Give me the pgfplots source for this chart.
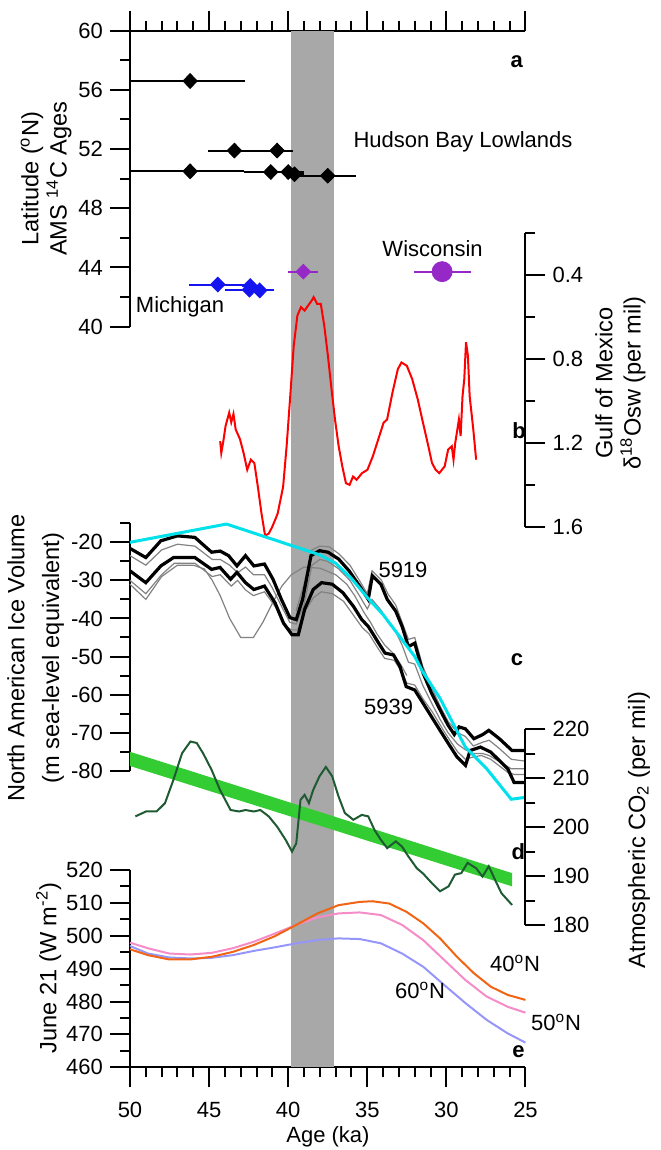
\documentclass[border=0pt]{standalone}
\usepackage{fontspec}
\setmainfont{Liberation Sans}
\usepackage{pgfplots}
\pgfplotsset{compat=1.18}

\definecolor{bandgray}{RGB}{168,168,168}
\definecolor{mblue}{RGB}{20,20,240}
\definecolor{wpurple}{RGB}{150,40,200}
\definecolor{gomred}{RGB}{255,0,0}
\definecolor{icecyan}{RGB}{0,225,235}
\definecolor{thingray}{RGB}{130,130,130}
\definecolor{co2green}{RGB}{30,90,50}
\definecolor{bandgreen}{RGB}{51,204,51}
\definecolor{ins40}{RGB}{240,100,20}
\definecolor{ins50}{RGB}{245,140,200}
\definecolor{ins60}{RGB}{150,150,250}

\newcommand{\lbl}{\fontsize{11}{13}\selectfont}
\newcommand{\vlbl}{\fontsize{11.8}{14}\selectfont}

\pgfplotsset{
  panel/.style={
    scale only axis, width=197.75pt,
    xmin=25, xmax=50, x dir=reverse,
    anchor=south west, clip=false,
    tick align=outside,
    major tick length=10pt, minor tick length=5pt,
    tick style={line width=1pt, black},
    minor tick style={line width=1pt, black},
    axis line style={line width=1pt},
    /pgf/number format/assume math mode=true,
    tick label style={font=\lbl},
  },
  leftpanel/.style={panel, axis y line*=left, hide x axis},
  rightpanel/.style={panel, axis y line*=right, hide x axis},
}

\begin{document}
\begin{tikzpicture}
\useasboundingbox (0,0) rectangle (330pt,575pt);

% frame: age axis top and bottom, shaded interval
\begin{axis}[panel, at={(65pt,41.35pt)}, height=518.3pt,
  ymin=0, ymax=1, axis x line=box, axis y line=none,
  xtick={25,30,...,50}, minor x tick num=4,
  xticklabel style={yshift=-4pt}]
\addplot[fill=bandgray, draw=none] coordinates {(39.8,0) (37.1,0) (37.1,1) (39.8,1)} -- cycle;
\end{axis}

% a: latitude of AMS 14C ages
\begin{axis}[leftpanel, at={(65pt,411.65pt)}, height=148pt,
  ymin=40, ymax=60, ytick={40,44,...,60}, minor ytick={42,46,...,58}]
\addplot[only marks, black, mark=diamond*, mark size=3.7pt, mark options={xscale=1.3},
  error bars/.cd, x dir=both, x explicit, error mark=none,
  error bar style={line width=1pt, black}]
  coordinates {
  (46.2,56.6) += (3.8,0) -= (3.5,0)
  (43.4,51.9) +- (1.7,0)
  (40.7,51.9) +- (1.0,0)
  (46.2,50.5) += (3.8,0) -= (3.4,0)
  (41.1,50.45) +- (1.7,0)
  (40.0,50.45) +- (1.0,0)
  (39.6,50.3) +- (0.6,0)
  (37.5,50.2) +- (1.8,0)
  };
\addplot[only marks, mblue, mark=diamond*, mark size=3.7pt, mark options={xscale=1.3},
  error bars/.cd, x dir=both, x explicit, error mark=none,
  error bar style={line width=1pt, mblue}]
  coordinates {
  (44.45,42.85) +- (1.85,0)
  (42.4,42.75) +- (0.5,0)
  (42.45,42.5) +- (1.55,0)
  (41.8,42.45) +- (0.9,0)
  };
\addplot[only marks, wpurple, mark=diamond*, mark size=3.7pt, mark options={xscale=1.3},
  error bars/.cd, x dir=both, x explicit, error mark=none,
  error bar style={line width=1pt, wpurple}]
  coordinates {(39.04,43.72) +- (0.95,0)};
\addplot[only marks, wpurple, mark=*, mark size=5pt,
  error bars/.cd, x dir=both, x explicit, error mark=none,
  error bar style={line width=1pt, wpurple}]
  coordinates {(30.27,43.72) +- (1.8,0)};
\end{axis}

% b: Gulf of Mexico d18Osw
\begin{axis}[rightpanel, at={(65pt,311.35pt)}, height=147pt,
  ymin=0.2, ymax=1.6, y dir=reverse,
  ytick={0.4,0.8,1.2,1.6}, minor ytick={0.2,0.6,1.0,1.4}]
\addplot[gomred, line width=1pt] coordinates {
  (44.30,1.190) (44.23,1.246) (44.10,1.190) (43.96,1.118) (43.73,1.054) (43.60,1.100)
  (43.46,1.060) (43.32,1.134) (43.05,1.180) (42.82,1.246) (42.59,1.326) (42.36,1.278)
  (42.14,1.294) (41.92,1.406) (41.69,1.533) (41.46,1.640) (41.23,1.630) (41.01,1.598)
  (40.80,1.560) (40.66,1.533) (40.32,1.406) (40.10,1.214) (39.87,0.975) (39.65,0.735)
  (39.42,0.592) (39.19,0.551) (38.96,0.568) (38.74,0.544) (38.51,0.520) (38.39,0.504)
  (38.17,0.536) (37.94,0.536) (37.72,0.640) (37.49,0.783) (37.26,0.943) (37.04,1.087)
  (36.81,1.214) (36.58,1.310) (36.35,1.390) (36.12,1.398) (35.90,1.358) (35.68,1.374)
  (35.33,1.342) (34.99,1.326) (34.65,1.262) (34.31,1.182) (33.97,1.102) (33.75,1.087)
  (33.41,0.959) (33.07,0.847) (32.84,0.815) (32.50,0.831) (32.16,0.895) (31.81,0.991)
  (31.48,1.102) (31.14,1.214) (30.91,1.294) (30.68,1.326) (30.45,1.342) (30.11,1.310)
  (29.89,1.230) (29.66,1.214) (29.55,1.278) (29.44,1.198) (29.21,1.087) (29.10,1.166)
  (28.98,0.975) (28.87,0.895) (28.76,0.719) (28.64,0.783) (28.53,0.975) (28.30,1.134)
  (28.12,1.278)
};
\end{axis}

% c: North American ice volume
\begin{axis}[leftpanel, at={(65pt,189.65pt)}, height=123.7pt,
  ymin=-80, ymax=-15, ytick={-80,-70,...,-20}, minor ytick={-75,-65,...,-15}]
% thin grey runs
\addplot[thingray, line width=0.6pt] coordinates {
  (39.5,-38) (39.0,-31) (38.5,-22) (38.0,-21) (37.4,-21.2) (36.8,-23) (36.1,-26) (35.5,-30)
  (35.0,-33.5) (34.7,-27.5) (34.1,-30) (33.7,-33.5) (33.2,-36.5) (32.8,-41) (32.4,-45.5)
  (32.0,-45) (31.5,-52.5) (30.9,-58.5) (30.4,-63) (29.9,-67) (29.3,-70) (28.8,-71)
  (28.3,-73.5) (27.7,-72.5) (27.3,-72) (26.7,-74) (25.9,-77) (25.0,-77.5)
};
\addplot[thingray, line width=0.6pt] coordinates {
  (50.0,-23.5) (49.0,-26) (48.0,-22) (47.0,-20.5) (45.9,-21) (44.8,-24.5) (44.3,-24.5)
  (43.7,-26) (43.2,-28) (42.7,-26.5) (42.2,-28.5) (41.5,-28.5) (41.0,-32) (40.4,-37)
  (39.9,-41) (39.5,-41.5) (39.0,-36.5) (38.5,-26) (38.0,-24.5) (37.5,-25) (36.8,-27)
  (36.1,-30) (35.5,-34) (35.0,-37.5) (34.7,-35) (34.1,-38) (33.7,-41) (33.2,-43.5)
  (32.8,-47) (32.4,-51.5) (32.0,-52) (31.5,-57.5) (30.9,-62.5) (30.4,-66.5) (29.9,-70)
  (29.3,-73) (28.8,-74.5) (28.3,-75.5) (27.7,-75.5) (27.3,-76) (26.7,-77.5) (25.9,-79.5)
  (25.0,-79.5)
};
\addplot[thingray, line width=0.6pt] coordinates {
  (50.0,-30) (49.0,-33.5) (48.0,-28.5) (47.2,-25.5) (45.9,-25.5) (44.8,-29) (44.3,-28.5)
  (43.6,-31.5) (43.2,-30) (42.7,-32.5) (42.2,-34) (41.5,-33) (40.8,-37) (40.3,-41.5)
  (39.8,-43) (39.4,-43) (39.0,-38.5) (38.4,-34.5) (37.9,-33) (37.2,-33.5) (36.5,-35.5)
  (35.9,-39) (35.3,-42.5) (34.9,-44) (34.3,-48) (33.9,-50.5) (33.3,-51) (32.9,-53.5)
  (32.5,-57) (32.0,-57.5) (31.5,-61) (30.9,-64.5) (30.1,-70) (29.3,-75) (28.8,-77)
  (28.4,-76.5) (27.8,-76) (27.2,-77) (26.1,-80.5) (25.7,-81) (25.0,-81)
};
\addplot[thingray, line width=0.6pt] coordinates {
  (50.0,-31) (49.0,-35) (48.0,-29) (47.0,-26) (46.0,-26) (45.3,-27) (44.8,-30)
  (44.3,-34) (43.7,-40) (43.0,-45) (42.2,-45) (41.6,-41) (41.0,-36) (40.4,-31.5)
  (39.8,-28.5) (39.0,-26.5) (38.0,-26.8) (37.0,-28.5) (36.3,-31) (35.8,-34) (35.2,-38.5)
  (34.8,-41) (34.4,-44) (33.9,-47) (33.4,-49) (32.9,-52) (32.5,-55)
};
% thick black runs 5919 and 5939
\addplot[black, line width=1.6pt] coordinates {
  (50.0,-21.6) (49.0,-24) (48.05,-19.6) (47.0,-18.3) (45.9,-18.7) (44.84,-22.6) (44.3,-22.3)
  (43.77,-23.5) (43.24,-26.2) (42.7,-23.5) (42.17,-26.2) (41.5,-25.7) (40.96,-29.7)
  (40.43,-35) (39.89,-39.8) (39.49,-40.3) (39.09,-35) (38.56,-23.5) (38.02,-22.2)
  (37.48,-22.6) (36.81,-24.4) (36.15,-27.5) (35.48,-31.5) (34.94,-35) (34.68,-28.8)
  (34.14,-31) (33.74,-35) (33.2,-38.1) (32.8,-42.1) (32.4,-47.4) (32.0,-46.5)
  (31.47,-54.4) (30.93,-59.7) (30.4,-64) (29.9,-68) (29.5,-70.5) (29.2,-68.5) (28.8,-69)
  (28.26,-71.6) (27.7,-70.5) (27.32,-69.4) (26.65,-71.6) (25.85,-74.7) (25.0,-74.7)
};
\addplot[black, line width=1.6pt] coordinates {
  (50.0,-27.5) (49.0,-30.6) (48.05,-26.2) (47.25,-24) (45.9,-24) (44.84,-27.1) (44.31,-26.6)
  (43.64,-29.7) (43.24,-27.9) (42.7,-30.6) (42.17,-32.4) (41.5,-31.5) (40.83,-35.9)
  (40.3,-41.2) (39.76,-44.3) (39.36,-44.3) (38.96,-37.6) (38.42,-32.4) (37.89,-30.6)
  (37.22,-31) (36.55,-33.2) (35.88,-36.8) (35.35,-40.3) (34.94,-42.1) (34.68,-43.8)
  (34.28,-46.5) (33.88,-49.1) (33.34,-49.6) (32.94,-52.6) (32.54,-57.9) (32.0,-58.8)
  (31.47,-62.3) (30.93,-65.9) (30.13,-71.2) (29.33,-76.4) (28.79,-78.6) (28.5,-74.7)
  (27.85,-73.8) (27.2,-75.1) (26.12,-79.5) (25.72,-83.1) (25.0,-83.1)
};
% cyan reference curve
\addplot[icecyan, line width=1.5pt] coordinates {
  (50.0,-20) (43.9,-15.2) (38.0,-23.3) (37.0,-25.5) (36.0,-29.5) (35.0,-34.5) (34.0,-39)
  (33.0,-44.5) (32.0,-50) (31.5,-54) (30.4,-61) (28.8,-73.8) (27.45,-79.5) (25.9,-87.5)
  (25.0,-87)
};
\end{axis}

% d: atmospheric CO2
\begin{axis}[rightpanel, at={(65pt,112.5pt)}, height=97.85pt,
  ymin=180, ymax=220, ytick={180,190,...,220}, minor ytick={185,195,...,215}]
\addplot[fill=bandgreen, draw=none] coordinates {
  (50,215.4) (37.9,203.0) (25.85,190.6) (25.85,187.9) (37.9,200.2) (50,212.5)} -- cycle;
\addplot[co2green, line width=1pt] coordinates {
  (49.66,202.2) (48.99,203.2) (48.32,203.2) (47.79,204.9) (47.25,209.7) (46.71,215.1)
  (46.18,217.5) (45.78,217.2) (45.38,215.1) (44.84,211.7) (44.31,207.6) (43.64,203.5)
  (43.10,203.2) (42.70,203.5) (42.17,203.2) (41.76,203.5) (41.23,202.2) (40.70,200.1)
  (40.16,197.4) (39.76,195.0) (39.49,196.7) (39.22,205.6) (38.96,206.6) (38.69,204.9)
  (38.42,207.6) (38.02,210.4) (37.62,212.3) (37.22,210.4) (36.82,206.3) (36.42,202.9)
  (35.88,201.5) (35.35,202.5) (34.94,202.2) (34.54,199.4) (34.14,197.4) (33.74,195.7)
  (33.20,197.1) (32.80,196.0) (32.40,194.0) (31.87,191.6) (31.47,190.5) (30.93,188.6)
  (30.40,186.9) (29.86,187.9) (29.46,190.3) (29.06,190.6) (28.66,192.7) (28.12,191.6)
  (27.72,189.9) (27.32,192.0) (26.92,189.2) (26.52,186.5) (25.85,184.1)
};
\end{axis}

% e: June 21 insolation
\begin{axis}[leftpanel, at={(65pt,41.35pt)}, height=98.65pt,
  ymin=460, ymax=520, ytick={460,470,...,520}, minor ytick={465,475,...,515}]
\addplot[ins60, line width=1pt] coordinates {
  (50,496.9) (48.86,494.6) (47.52,493.4) (46.18,493.1) (44.84,493.3) (43.5,494.1)
  (42.17,495.4) (40.83,496.5) (39.49,497.7) (38.15,498.7) (36.82,499.2) (35.48,499.0)
  (34.14,497.7) (32.8,494.6) (31.47,490.6) (30.13,485.0) (28.79,479.5) (27.45,474.4)
  (26.12,470.3) (25,467.5)
};
\addplot[ins50, line width=1pt] coordinates {
  (50,497.9) (48.86,496.2) (47.52,494.6) (46.18,494.3) (44.84,494.8) (43.5,496.2)
  (42.17,498.2) (40.83,500.7) (39.49,503.3) (38.15,505.6) (36.82,506.8) (35.48,507.1)
  (34.14,506.3) (32.8,503.3) (31.47,498.7) (30.13,492.6) (28.79,486.5) (27.45,481.5)
  (26.12,478.4) (25,476.6)
};
\addplot[ins40, line width=1pt] coordinates {
  (50,495.9) (48.86,494.1) (47.52,492.8) (46.18,492.8) (44.84,493.6) (43.5,495.1)
  (42.17,497.2) (40.83,499.9) (39.49,503.3) (38.15,506.8) (36.82,509.3) (35.48,510.3)
  (34.68,510.5) (33.61,509.8) (32.53,507.3) (31.47,503.8) (30.4,499.2) (29.33,493.6)
  (28.26,488.6) (27.19,484.5) (26.12,482.0) (25,480.5)
};
\end{axis}

% axis titles
\node[rotate=90, font=\vlbl] at (16pt,485.65pt) {Latitude (\textsuperscript{o}N)};
\node[rotate=90, font=\vlbl] at (29.5pt,485.65pt) {AMS \textsuperscript{14}C Ages};
\node[rotate=90, font=\vlbl] at (302pt,383.5pt) {Gulf of Mexico};
\node[rotate=90, font=\vlbl] at (316.5pt,383.5pt) {δ\textsuperscript{18}Osw (per mil)};
\node[rotate=90, font=\vlbl] at (8pt,246pt) {North American Ice Volume};
\node[rotate=90, font=\vlbl] at (26.5pt,246pt) {(m sea-level equivalent)};
\node[rotate=90, font=\vlbl] at (319.5pt,160pt) {Atmospheric CO\textsubscript{2} (per mil)};
\node[rotate=90, font=\vlbl] at (24.35pt,91pt) {June 21 (W m\textsuperscript{-2})};
\node[font=\lbl] at (164pt,6.5pt) {Age (ka)};

% annotations
\node[font=\lbl] at (231.5pt,504pt) {Hudson Bay Lowlands};
\node[font=\lbl] at (216.3pt,450.85pt) {Wisconsin};
\node[font=\lbl] at (90pt,421.65pt) {Michigan};
\node[font=\lbl] at (201.5pt,290pt) {5919};
\node[font=\lbl] at (194.35pt,221.65pt) {5939};
\node[font=\lbl] at (257.5pt,93.35pt) {40\textsuperscript{o}N};
\node[font=\lbl] at (278pt,63.65pt) {50\textsuperscript{o}N};
\node[font=\lbl] at (210pt,80pt) {60\textsuperscript{o}N};
\node[font=\lbl\bfseries] at (258.35pt,544.15pt) {a};
\node[font=\lbl\bfseries] at (259.6pt,359.65pt) {b};
\node[font=\lbl\bfseries] at (258.55pt,245.35pt) {c};
\node[font=\lbl\bfseries] at (259.2pt,149.15pt) {d};
\node[font=\lbl\bfseries] at (259.2pt,49pt) {e};
\end{tikzpicture}
\end{document}
